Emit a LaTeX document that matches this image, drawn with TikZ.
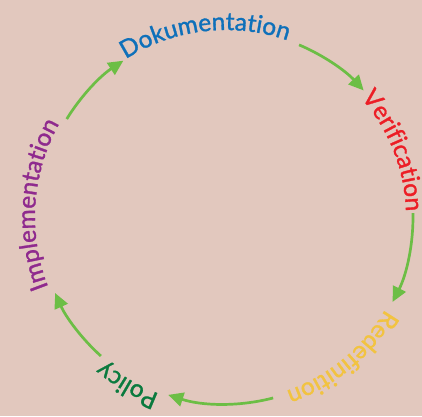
\documentclass[tikz,border=0pt]{standalone}
\usepackage{fontspec}
\setmainfont{Lato}
\newfontfamily\ringfamily{Lato}[FakeBold=1.2]
\usepackage{xcolor}
\usepackage{tikz}
\usetikzlibrary{decorations.text, arrows.meta}
\definecolor{bgrose}{RGB}{226,200,190}
\definecolor{dokblue}{RGB}{14,112,186}
\definecolor{verred}{RGB}{236,30,38}
\definecolor{redefyellow}{RGB}{242,195,64}
\definecolor{policygreen}{RGB}{10,122,62}
\definecolor{implpurple}{RGB}{143,42,142}
\definecolor{flowgreen}{RGB}{108,190,69}
\newcommand{\ringfont}{\ringfamily\fontsize{24.5}{28}\selectfont}

\begin{document}
\begin{tikzpicture}[
        x=1pt, y=1pt,
        flow/.style={-{Triangle[length=15pt, width=14pt]}, line width=2.7pt, flowgreen},
        ringlabel/.style={decorate, decoration={text along path, text align=center, text={#1}}}
    ]

    % Background
    \fill[bgrose] (-226,-199) rectangle (196,217);
    \useasboundingbox (-226,-199) rectangle (196,217);

    % Labels on the ring
    \path[ringlabel={|\ringfont\color{dokblue}|Dokumentation}] (131.6:187) arc[start angle=131.6, end angle=61.6, radius=187pt];
    \path[ringlabel={|\ringfont\color{verred}|Verification}] (56.6:180) arc[start angle=56.6, end angle=-13.4, radius=180pt];
    \path[ringlabel={|\ringfont\color{redefyellow}|Redefinition}] (-15.5:184) arc[start angle=-15.5, end angle=-85.5, radius=184pt];
    \path[ringlabel={|\ringfont\color{policygreen}|Policy}] (-85.45:189) arc[start angle=-85.45, end angle=-155.45, radius=189pt];
    \path[ringlabel={|\ringfont\color{implpurple}|Implementation}] (211.15:191) arc[start angle=211.15, end angle=141.15, radius=191pt];

    % Arrow ends
    \coordinate (dok-out) at (67:187);
    \coordinate (ver-out) at (1.2:187);
    \coordinate (red-out) at (-75.4:187);
    \coordinate (pol-out) at (-132:187);
    \coordinate (imp-out) at (148.4:187);

    % Arrows
    \draw[flow] (dok-out) arc[start angle=67, end angle=42.6, radius=187pt];
    \draw[flow] (ver-out) arc[start angle=1.2, end angle=-27, radius=187pt];
    \draw[flow] (red-out) arc[start angle=-75.4, end angle=-108, radius=187pt];
    \draw[flow] (pol-out) arc[start angle=-132, end angle=-156, radius=187pt];
    \draw[flow] (imp-out) arc[start angle=148.4, end angle=123.3, radius=187pt];

\end{tikzpicture}
\end{document}
